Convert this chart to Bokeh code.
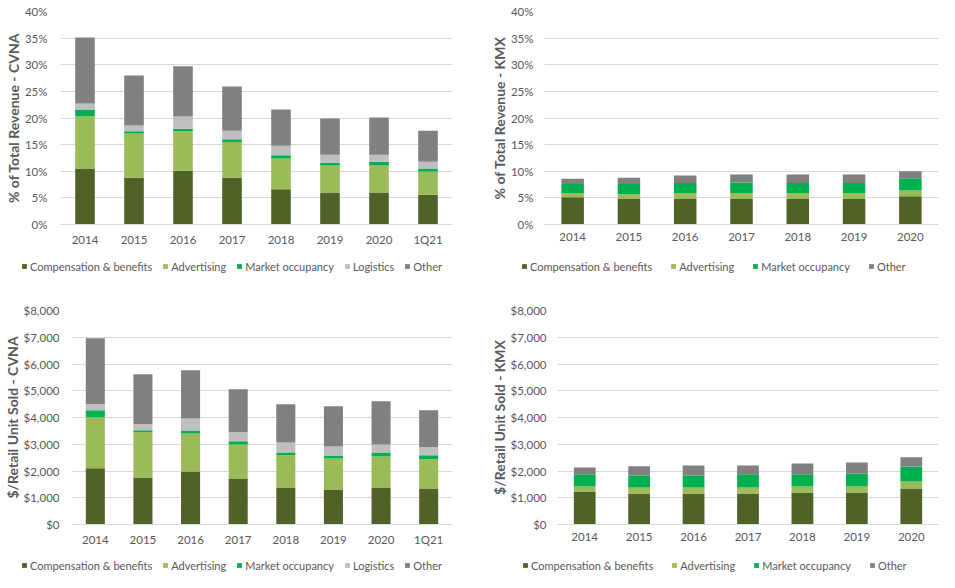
from bokeh.plotting import figure
from bokeh.layouts import column, row
from bokeh.models import (ColumnDataSource, Legend, LegendItem, FactorRange, Range1d,
                          FixedTicker, PrintfTickFormatter, NumeralTickFormatter)
from bokeh.embed import file_html
from bokeh.resources import INLINE

# ---------------- data ----------------
cvna_years = ["2014", "2015", "2016", "2017", "2018", "2019", "2020", "1Q21"]
kmx_years = ["2014", "2015", "2016", "2017", "2018", "2019", "2020"]

series_names_cvna = ["Compensation & benefits", "Advertising", "Market occupancy", "Logistics", "Other"]
series_names_kmx = ["Compensation & benefits", "Advertising", "Market occupancy", "Other"]

# % of total revenue - CVNA
cvna_pct_comp = [10.5, 8.8, 10.1, 8.8, 6.6, 6.0, 6.0, 5.6]
cvna_pct_adv = [9.8, 8.3, 7.4, 6.7, 5.8, 5.1, 5.1, 4.3]
cvna_pct_mkt = [1.3, 0.4, 0.5, 0.5, 0.6, 0.5, 0.7, 0.6]
cvna_pct_log = [1.1, 1.1, 2.3, 1.6, 1.8, 1.5, 1.3, 1.3]
cvna_pct_other = [12.4, 9.4, 9.4, 8.3, 6.8, 6.8, 7.0, 5.8]

# % of total revenue - KMX
kmx_pct_comp = [5.1, 4.8, 4.9, 4.9, 4.9, 4.9, 5.3]
kmx_pct_adv = [0.8, 0.9, 1.0, 1.0, 1.0, 1.0, 1.1]
kmx_pct_mkt = [1.7, 1.9, 1.9, 2.0, 1.9, 1.9, 2.3]
kmx_pct_other = [1.0, 1.2, 1.4, 1.5, 1.6, 1.6, 1.3]

# $ per retail unit sold - CVNA
cvna_usd_comp = [2100, 1760, 1985, 1720, 1385, 1310, 1385, 1350]
cvna_usd_adv = [1910, 1690, 1420, 1275, 1200, 1160, 1160, 1085]
cvna_usd_mkt = [260, 75, 110, 115, 110, 110, 150, 150]
cvna_usd_log = [225, 225, 450, 335, 375, 340, 300, 300]
cvna_usd_other = [2470, 1870, 1800, 1610, 1425, 1500, 1610, 1385]

# $ per retail unit sold - KMX
kmx_usd_comp = [1235, 1160, 1160, 1160, 1200, 1200, 1350]
kmx_usd_adv = [190, 225, 225, 225, 225, 225, 260]
kmx_usd_mkt = [450, 450, 450, 490, 450, 485, 560]
kmx_usd_other = [260, 340, 375, 335, 410, 410, 340]

colors_cvna = ["#4F6228", "#9BBB59", "#00B050", "#BFBFBF", "#808080"]
colors_kmx = ["#4F6228", "#9BBB59", "#00B050", "#808080"]

FONT = "Lato"
TXT = "#595959"
GRID = "#D9D9D9"


def make_source(years, values):
    data = {"year": years}
    keys = []
    for i, v in enumerate(values):
        k = "s%d" % i
        keys.append(k)
        data[k] = v
    return ColumnDataSource(data), keys


def make_chart(years, values, colors, y_end, y_step, fmt, title,
               fw, fh, bl, br, bt, bb, lbl_standoff):
    src, keys = make_source(years, values)
    p = figure(x_range=FactorRange(*years, range_padding=0), y_range=Range1d(0, y_end),
               frame_width=fw, frame_height=fh,
               min_border_left=bl, min_border_right=br, min_border_top=bt, min_border_bottom=bb,
               output_backend="svg", toolbar_location=None, tools="")
    p.vbar_stack(keys, x="year", width=0.4, source=src, color=colors, line_color=None)
    p.outline_line_color = None
    p.background_fill_color = "white"
    p.border_fill_color = "white"

    p.yaxis.ticker = FixedTicker(ticks=list(range(0, y_end + 1, y_step)))
    p.yaxis.formatter = fmt
    p.yaxis.axis_line_color = None
    p.yaxis.major_tick_line_color = None
    p.yaxis.minor_tick_line_color = None
    p.yaxis.major_tick_out = 0
    p.yaxis.major_label_standoff = lbl_standoff
    p.yaxis.major_label_text_font = FONT
    p.yaxis.major_label_text_font_size = "11.5px"
    p.yaxis.major_label_text_color = TXT
    p.yaxis.axis_label = title
    p.yaxis.axis_label_text_font = FONT
    p.yaxis.axis_label_text_font_style = "bold"
    p.yaxis.axis_label_text_font_size = "14px"
    p.yaxis.axis_label_text_color = TXT
    p.yaxis.axis_label_standoff = 0

    p.xaxis.axis_line_color = GRID
    p.xaxis.major_tick_line_color = None
    p.xaxis.minor_tick_line_color = None
    p.xaxis.major_tick_out = 0
    p.xaxis.major_label_standoff = 8
    p.xaxis.major_label_text_font = FONT
    p.xaxis.major_label_text_font_size = "11.5px"
    p.xaxis.major_label_text_color = TXT

    p.xgrid.grid_line_color = None
    p.ygrid.grid_line_color = GRID
    p.ygrid.ticker = FixedTicker(ticks=list(range(0, y_end + 1, y_step)))
    return p


def make_legend(years, values, names, colors, w, h, loc, spacing):
    # legend strip: the series are drawn against a y range far above the data, so no bar shows
    src, keys = make_source(years, values)
    lf = figure(width=w, height=h, x_range=FactorRange(*years), y_range=Range1d(1e6, 1e6 + 1),
                min_border_left=0, min_border_right=0, min_border_top=0, min_border_bottom=0,
                x_axis_location=None, y_axis_location=None,
                output_backend="svg", toolbar_location=None, tools="")
    lf.grid.visible = False
    lf.outline_line_color = None
    rs = lf.vbar_stack(keys, x="year", width=0.4, source=src, color=colors, line_color=None)
    items = [LegendItem(label=n, renderers=[r]) for n, r in zip(names, rs)]
    leg = Legend(items=items, orientation="horizontal", location=loc,
                 glyph_width=6, glyph_height=6, label_height=13, label_standoff=3,
                 spacing=spacing, padding=0, margin=0,
                 border_line_color=None, background_fill_alpha=0,
                 label_text_font=FONT, label_text_font_size="11px", label_text_color=TXT)
    lf.add_layout(leg, "center")
    return lf


cvna_pct = [cvna_pct_comp, cvna_pct_adv, cvna_pct_mkt, cvna_pct_log, cvna_pct_other]
kmx_pct = [kmx_pct_comp, kmx_pct_adv, kmx_pct_mkt, kmx_pct_other]
cvna_usd = [cvna_usd_comp, cvna_usd_adv, cvna_usd_mkt, cvna_usd_log, cvna_usd_other]
kmx_usd = [kmx_usd_comp, kmx_usd_adv, kmx_usd_mkt, kmx_usd_other]

p1 = make_chart(cvna_years, cvna_pct, colors_cvna, 40, 5, PrintfTickFormatter(format="%d%%"),
                "% of Total Revenue - CVNA", 392, 213, 60, 25, 11, 28, 13)
p2 = make_chart(kmx_years, kmx_pct, colors_kmx, 40, 5, PrintfTickFormatter(format="%d%%"),
                "% of Total Revenue - KMX", 394, 213, 67, 16, 11, 28, 11)
p3 = make_chart(cvna_years, cvna_usd, colors_cvna, 8000, 1000, NumeralTickFormatter(format="$0,0"),
                "$/Retail Unit Sold - CVNA", 381, 214, 71, 25, 24, 28, 12)
p4 = make_chart(kmx_years, kmx_usd, colors_kmx, 8000, 1000, NumeralTickFormatter(format="$0,0"),
                "$/Retail Unit Sold - KMX", 381, 214, 80, 16, 24, 28, 11)

l1 = make_legend(cvna_years, cvna_pct, series_names_cvna, colors_cvna, 477, 34, (21, 13.5), 10)
l2 = make_legend(kmx_years, kmx_pct, series_names_kmx, colors_kmx, 477, 34, (44, 13.5), 18)
l3 = make_legend(cvna_years, cvna_usd, series_names_cvna, colors_cvna, 477, 36, (21, 16.5), 10)
l4 = make_legend(kmx_years, kmx_usd, series_names_kmx, colors_kmx, 477, 36, (45, 16.5), 18)

layout = column(row(p1, p2), row(l1, l2), row(p3, p4), row(l3, l4))

open("out.html", "w").write(file_html(layout, INLINE))
